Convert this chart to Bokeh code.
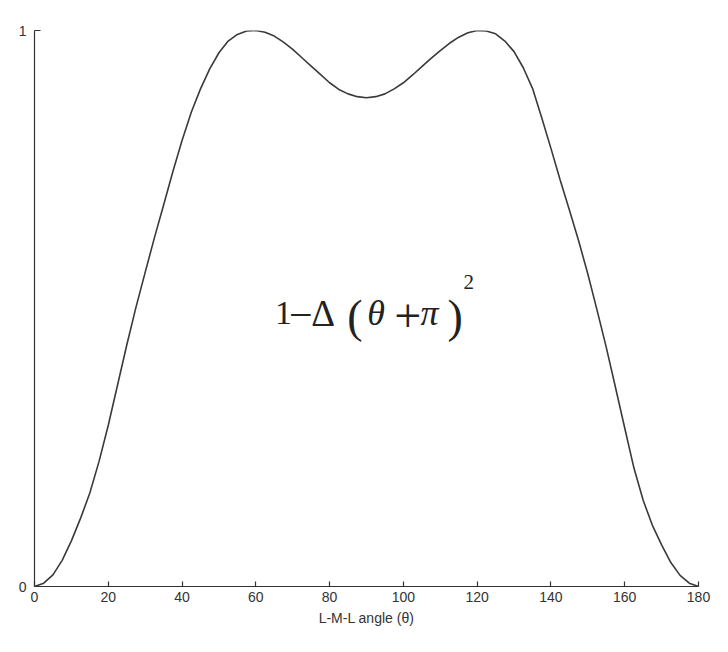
from bokeh.plotting import figure
from bokeh.models import Range1d, FixedTicker, Label
from bokeh.embed import file_html
from bokeh.resources import INLINE

# Data
angle = [0, 2.5, 5, 7.5, 10, 12.5, 15, 17.5, 20, 22.5, 25, 27.5, 30, 32.5, 35, 37.5, 40, 42.5,
         45, 47.5, 50, 52.5, 55, 57.5, 60, 62.5, 65, 67.5, 70, 72.5, 75, 77.5, 80, 82.5, 85, 87.5,
         90, 92.5, 95, 97.5, 100, 102.5, 105, 107.5, 110, 112.5, 115, 117.5, 120, 122.5, 125,
         127.5, 130, 132.5, 135, 137.5, 140, 142.5, 145, 147.5, 150, 152.5, 155, 157.5, 160,
         162.5, 165, 167.5, 170, 172.5, 175, 177.5, 180]
value = [0.0, 0.006, 0.021, 0.047, 0.082, 0.123, 0.168, 0.225, 0.29, 0.362, 0.434, 0.502, 0.565,
         0.627, 0.686, 0.746, 0.802, 0.853, 0.895, 0.931, 0.96, 0.981, 0.993, 0.999, 1.0, 0.997,
         0.99, 0.979, 0.966, 0.951, 0.936, 0.921, 0.906, 0.894, 0.886, 0.881, 0.879, 0.881,
         0.886, 0.895, 0.906, 0.92, 0.935, 0.95, 0.964, 0.977, 0.988, 0.996, 1.0, 0.999, 0.994,
         0.981, 0.962, 0.933, 0.896, 0.843, 0.788, 0.731, 0.677, 0.622, 0.562, 0.497, 0.43,
         0.358, 0.285, 0.213, 0.155, 0.11, 0.075, 0.043, 0.02, 0.006, 0.0]
x_ticks = [0, 20, 40, 60, 80, 100, 120, 140, 160, 180]
y_ticks = [0, 1]

p = figure(width=720, height=644, output_backend="svg", toolbar_location=None,
           x_range=Range1d(0, 180), y_range=Range1d(0, 1),
           min_border_left=34, min_border_right=22, min_border_top=30, min_border_bottom=58)
p.outline_line_color = None
p.xgrid.visible = False
p.ygrid.visible = False
p.background_fill_color = "white"
p.border_fill_color = "white"

p.line(angle, value, line_color="#3a3a3a", line_width=1.6)

for ax in (p.xaxis[0], p.yaxis[0]):
    ax.axis_line_color = "#333333"
    ax.axis_line_width = 1.2
    ax.major_tick_line_color = "#333333"
    ax.major_tick_line_width = 1.2
    ax.minor_tick_line_color = None
    ax.major_tick_out = 0
    ax.major_label_text_font = "Liberation Sans"
    ax.major_label_text_font_size = "14px"
    ax.major_label_text_color = "#333333"

p.xaxis[0].ticker = FixedTicker(ticks=x_ticks)
p.xaxis[0].major_tick_in = 5
p.xaxis[0].major_label_standoff = 5
p.xaxis[0].axis_label = "L-M-L angle (θ)"
p.xaxis[0].axis_label_text_font = "Liberation Sans"
p.xaxis[0].axis_label_text_font_style = "normal"
p.xaxis[0].axis_label_text_font_size = "14px"
p.xaxis[0].axis_label_text_color = "#333333"
p.xaxis[0].axis_label_standoff = 5

p.yaxis[0].ticker = FixedTicker(ticks=y_ticks)
p.yaxis[0].major_tick_in = 6
p.yaxis[0].major_label_standoff = 8

# Formula annotation: 1 − Δ(θ + π)²
def px_x(px):
    return (px - 34) / 3.68

def px_y(py):
    return (586.5 - py) / 556.5

base = 313
pieces = [
    ("1", 274, base, "34px", "normal"),
    ("\u2212", 288, base + 2, "42px", "normal"),
    ("\u0394", 310, base, "37px", "normal"),
    ("(", 346, base + 3, "46px", "normal"),
    ("\u03b8", 366, base, "36px", "italic"),
    ("+", 393, base + 3, "48px", "normal"),
    ("\u03c0", 419, base, "36px", "italic"),
    (")", 446, base + 3, "46px", "normal"),
    ("2", 462, 282, "21px", "normal"),
]
for t, xp, yp, fs, st in pieces:
    p.add_layout(Label(x=px_x(xp), y=px_y(yp), text=t, text_font="Liberation Serif",
                       text_font_size=fs, text_font_style=st, text_color="#222222",
                       text_align="left", text_baseline="alphabetic"))

open("out.html", "w").write(file_html(p, INLINE))
